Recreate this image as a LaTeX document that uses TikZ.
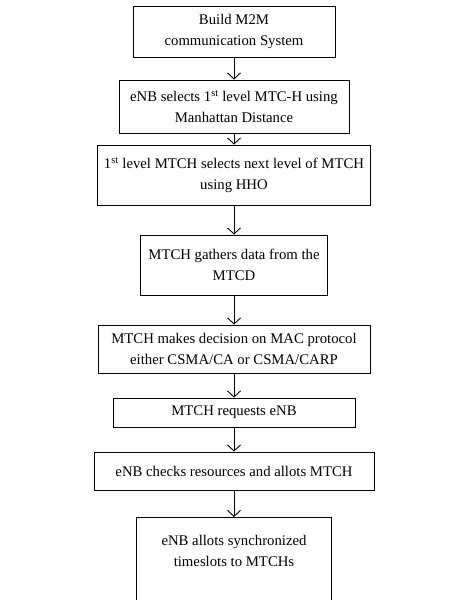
\documentclass[tikz,border=0pt]{standalone}
\usepackage{fontspec}
\setmainfont{Liberation Serif}
\usetikzlibrary{arrows.meta}
\begin{document}
\begin{tikzpicture}[x=1bp,y=-1bp,
  steptext/.style={align=center, font=\fontsize{14.8}{20.5}\selectfont},
  stepbox/.style={steptext, draw=black, line width=0.9bp, rectangle, inner sep=0pt},
  flow/.style={draw=black, line width=0.9bp,
    -{Straight Barb[length=6bp,width=13bp,line width=0.9bp]}}]
\useasboundingbox (0,0) rectangle (451,600);
\clip (0,0) rectangle (451,600);
% process steps, top to bottom
\node[stepbox, minimum width=202bp, minimum height=51bp] (b1) at (234,31.5)
  {Build M2M\\communication System};
\node[stepbox, minimum width=230bp, minimum height=53bp] (b2) at (234,106.5)
  {eNB selects 1\textsuperscript{st} level MTC-H using\\Manhattan Distance};
\node[stepbox, minimum width=273bp, minimum height=60bp] (b3) at (234,175)
  {1\textsuperscript{st} level MTCH selects next level of MTCH\\using HHO};
\node[stepbox, minimum width=187bp, minimum height=60bp] (b4) at (234,265)
  {MTCH gathers data from the\\MTCD};
\node[stepbox, minimum width=272bp, minimum height=48bp] (b5) at (234,349)
  {MTCH makes decision on MAC protocol\\either CSMA/CA or CSMA/CARP};
\node[stepbox, minimum width=242bp, minimum height=29bp] (b6) at (234,412.5)
  {MTCH requests eNB};
\node[stepbox, minimum width=280bp, minimum height=38bp] (b7) at (234,471)
  {eNB checks resources and allots MTCH};
% last step runs off the bottom edge
\node[stepbox, minimum width=195bp, minimum height=100bp, anchor=north] (b8) at (234,517) {};
\node[steptext] (t8) at (234,551)
  {eNB allots synchronized\\timeslots to MTCHs};
% connectors
\draw[flow] (b1.south) -- (b2.north);
\draw[flow] (b2.south) -- (b3.north);
\draw[flow] (b3.south) -- (b4.north);
\draw[flow] (b4.south) -- (b5.north);
\draw[flow] (b5.south) -- (b6.north);
\draw[flow] (b6.south) -- (b7.north);
\draw[flow] (b7.south) -- (b8.north);
\end{tikzpicture}
\end{document}
